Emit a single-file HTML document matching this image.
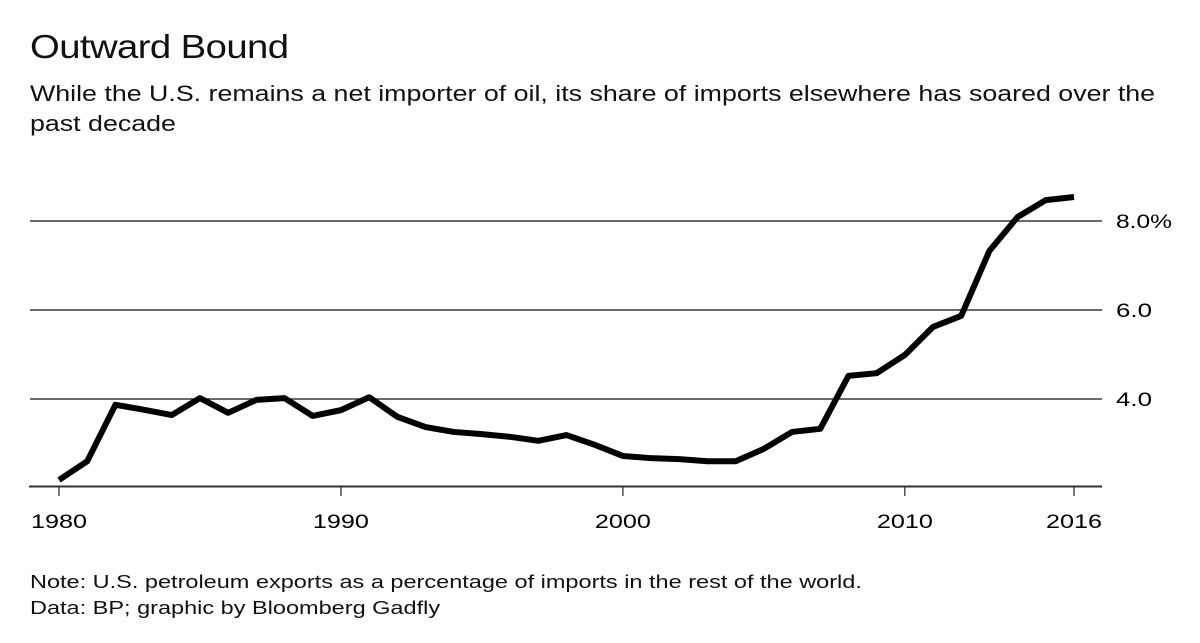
<!DOCTYPE html>
<html><head><meta charset="utf-8"><style>
html,body{margin:0;padding:0;background:#fff;width:1200px;height:643px;overflow:hidden;font-family:"Liberation Sans",Arial,sans-serif;color:#111}
.t{position:absolute;left:30px;white-space:nowrap;transform-origin:0 0}
</style></head><body>
<div class="t" style="top:28px;font-size:33px;letter-spacing:-0.5px;transform:scaleX(1.16)">Outward Bound</div>
<div class="t" style="top:79px;font-size:22.5px;line-height:30px;transform:scaleX(1.19)">While the U.S. remains a net importer of oil, its share of imports elsewhere has soared over the<br>past decade</div>
<svg width="1200" height="643" style="position:absolute;left:0;top:0">
<g id="grid"></g><g id="xax"></g><path id="line" fill="none" stroke="#000" stroke-width="6" stroke-linejoin="round"></path>
</svg>
<div class="t" style="top:571px;font-size:18.5px;transform:scaleX(1.27)">Note: U.S. petroleum exports as a percentage of imports in the rest of the world.</div>
<div class="t" style="top:597px;font-size:18.5px;transform:scaleX(1.27)">Data: BP; graphic by Bloomberg Gadfly</div>
<script>
const years=[1980,1981,1982,1983,1984,1985,1986,1987,1988,1989,1990,1991,1992,1993,1994,1995,1996,1997,1998,1999,2000,2001,2002,2003,2004,2005,2006,2007,2008,2009,2010,2011,2012,2013,2014,2015,2016];
const values=[2.18,2.6,3.87,3.76,3.64,4.02,3.69,3.98,4.02,3.62,3.75,4.04,3.6,3.37,3.26,3.21,3.15,3.06,3.19,2.97,2.72,2.67,2.65,2.6,2.6,2.88,3.26,3.33,4.52,4.58,4.99,5.62,5.87,7.33,8.09,8.47,8.54];
const yTicks=[4,6,8];
const yTickLabels=["4.0","6.0","8.0%"];
const xTicks=[1980,1990,2000,2010,2016];
const NS="http://www.w3.org/2000/svg";
function x(v){return 59+(v-1980)*(1074-59)/36;}
function y(v){return 488-(v-2)*44.5;}
const grid=document.getElementById('grid');
yTicks.forEach((t,i)=>{
 const l=document.createElementNS(NS,'line');
 l.setAttribute('x1',30);l.setAttribute('x2',1102);l.setAttribute('y1',y(t));l.setAttribute('y2',y(t));
 l.setAttribute('stroke','#111');l.setAttribute('stroke-width','1.3');
 
 
 grid.appendChild(l);
 const tx=document.createElementNS(NS,'text');
 tx.setAttribute('x',1116);tx.setAttribute('y',y(t)+7);tx.setAttribute('font-size','19');
 tx.setAttribute('textLength',yTickLabels[i].length*12+(yTickLabels[i].length>3?8:0));
 tx.setAttribute('lengthAdjust','spacingAndGlyphs');
 tx.textContent=yTickLabels[i];
 
 
 grid.appendChild(tx);
});
const xax=document.getElementById('xax');
const ax=document.createElementNS(NS,'line');
ax.setAttribute('x1',29);ax.setAttribute('x2',1102);ax.setAttribute('y1',486.5);ax.setAttribute('y2',486.5);
ax.setAttribute('stroke','#333');ax.setAttribute('stroke-width','2');


xax.appendChild(ax);
xTicks.forEach(t=>{
 const l=document.createElementNS(NS,'line');
 l.setAttribute('x1',x(t));l.setAttribute('x2',x(t));l.setAttribute('y1',487);l.setAttribute('y2',496);
 l.setAttribute('stroke','#333');l.setAttribute('stroke-width','1.3');
 
 
 xax.appendChild(l);
 const tx=document.createElementNS(NS,'text');
 tx.setAttribute('x',x(t));tx.setAttribute('y',528);tx.setAttribute('font-size','19');tx.setAttribute('text-anchor','middle');
 tx.setAttribute('textLength','56');
 tx.setAttribute('lengthAdjust','spacingAndGlyphs');
 tx.textContent=t;
 
 
 xax.appendChild(tx);
});
document.getElementById('line').setAttribute('d',years.map((yr,i)=>(i?'L':'M')+x(yr)+','+y(values[i])).join(''));
</script>
</body></html>
